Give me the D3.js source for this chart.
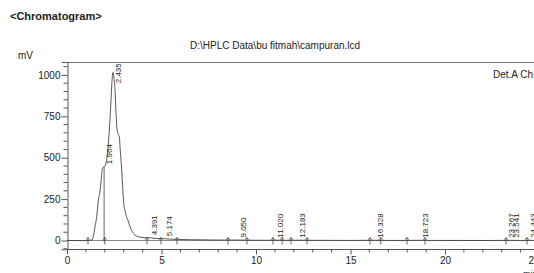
<!DOCTYPE html>
<html><head><meta charset="utf-8">
<script src="https://cdn.jsdelivr.net/npm/d3@7"></script>
<style>html,body{margin:0;padding:0;background:#fff;overflow:hidden}svg{display:block}text{font-family:"Liberation Sans",Arial,sans-serif;fill:#222}</style>
</head><body><svg id="c" width="534" height="273"></svg>
<script>
// ---- data ----
const times = [0,0.5,1.0,1.2,1.31,1.40,1.48,1.57,1.66,1.75,1.82,1.88,1.96,2.03,2.10,2.19,2.26,2.33,2.38,2.43,2.48,2.54,2.59,2.65,2.70,2.77,2.82,2.88,2.94,3.00,3.08,3.16,3.24,3.33,3.45,3.60,3.80,4.02,4.25,4.39,4.55,4.75,4.97,5.17,5.40,5.80,6.5,7.5,8.5,9.05,9.5,10.5,11.02,11.5,12.18,13,14,15,16.33,17,18,18.72,19.5,21,22.5,23.27,23.54,24,24.44,25,26];
const signal = [0,0,0,0.5,3,30,82,143,244,300,380,437,446,455,490,590,700,850,960,1015,985,910,780,670,645,625,540,450,330,230,175,140,118,85,55,33,22,18,16,17,14,13,11,11,9,7,5,3.5,2.5,3,2,1.5,2,1.2,2,1,0.8,0.6,1.5,0.5,0.5,1.5,0.5,0.4,0.3,1.0,1.0,0.3,1.0,0.2,0.2];
const peakTimes = [1.964,2.435,4.391,5.174,9.050,11.020,12.183,16.328,18.723,23.267,23.541,24.443];
const peakHeights = [446,1015,17,11,3,2,2,1.5,1.5,1,1,1];
const peakLabels = ["1.964","2.435","4.391","5.174","9.050","11.020","12.183","16.328","18.723","23.267","23.541","24.443"];
const markerTimes = [1.11,2.0,4.23,4.97,5.82,8.52,9.52,10.9,11.38,11.85,12.7,16.03,16.6,17.99,18.94,23.23,24.34];
const dropLineTimes = [1.964];
const dropLineHeights = [446];
const xTicks = [0,5,10,15,20,25];
const yTicks = [0,250,500,750,1000];

// ---- scales ----
const svg = d3.select("#c");
const x = d3.scaleLinear().domain([0,25]).range([67,539.5]);
const y = d3.scaleLinear().domain([-53,1078]).range([249.3,62]);

// titles
svg.append("text").attr("x",10).attr("y",20).style("font-size","11px").style("font-weight","bold").text("<Chromatogram>");
svg.append("text").attr("x",190).attr("y",49).style("font-size","10px").text("D:\\HPLC Data\\bu fitmah\\campuran.lcd");
svg.append("text").attr("x",18).attr("y",59).style("font-size","10px").text("mV");
svg.append("text").attr("x",493).attr("y",78).style("font-size","10px").text("Det.A Ch1");
svg.append("text").attr("x",523).attr("y",277).style("font-size","9px").text("min");

// frame top
svg.append("line").attr("x1",67).attr("x2",540).attr("y1",62.5).attr("y2",62.5).attr("stroke","#777").attr("stroke-width",1);

// y axis
const yAxis = d3.axisLeft(y).tickValues(yTicks).tickSize(6).tickPadding(1).tickFormat(d3.format("d"));
const gy = svg.append("g").attr("transform","translate(67.5,0)").call(yAxis);
gy.select(".domain").attr("stroke","#555");
gy.selectAll(".tick line").attr("stroke","#555");
gy.selectAll(".tick text").style("font-size","10px").attr("fill","#222");
const yMinor = d3.range(-50,1051,50).filter(v=>v%250!==0);
gy.selectAll(".minor").data(yMinor).enter().append("line").attr("class","minor")
  .attr("x1",-4).attr("x2",0).attr("y1",d=>y(d)).attr("y2",d=>y(d)).attr("stroke","#555");

// x axis
const xAxis = d3.axisBottom(x).tickValues(xTicks).tickSize(5).tickPadding(2).tickFormat(d3.format("d"));
const gx = svg.append("g").attr("transform","translate(0,249.5)").call(xAxis);
gx.select(".domain").attr("stroke","#555").attr("d","M67,0H540");
gx.selectAll(".tick line").attr("stroke","#555");
gx.selectAll(".tick text").style("font-size","10px").attr("fill","#222");
gx.selectAll(".tick text").filter(d=>d===25).attr("dx",-6);
const xMinor = d3.range(1,26,1).filter(v=>v%5!==0);
gx.selectAll(".minor").data(xMinor).enter().append("line").attr("class","minor")
  .attr("x1",d=>x(d)).attr("x2",d=>x(d)).attr("y1",0).attr("y2",3).attr("stroke","#555");

// baseline
svg.append("line").attr("x1",67).attr("x2",540).attr("y1",y(0)).attr("y2",y(0)).attr("stroke","#666").attr("stroke-width",0.8);

// signal curve
const pts = times.map((t,i)=>[t,signal[i]]);
svg.append("path").datum(pts)
  .attr("d",d3.line().x(d=>x(d[0])).y(d=>y(d[1])).curve(d3.curveMonotoneX))
  .attr("fill","none").attr("stroke","#444").attr("stroke-width",0.9);

// drop lines
dropLineTimes.forEach((t,i)=>{
  svg.append("line").attr("x1",x(t)).attr("x2",x(t)).attr("y1",y(dropLineHeights[i])).attr("y2",y(0)+1.5)
    .attr("stroke","#555").attr("stroke-width",0.9);
});

// integration markers
markerTimes.forEach(t=>{
  const cx = x(t), cy = y(0);
  svg.append("path").attr("d",`M${cx},${cy+4}V${cy-3}M${cx-1.8},${cy-0.8}L${cx},${cy-3}L${cx+1.8},${cy-0.8}`)
    .attr("fill","none").attr("stroke","#444").attr("stroke-width",0.8);
});

// peak labels
peakTimes.forEach((t,i)=>{
  const px = x(t) + 7.5;
  const textLen = peakLabels[i].length*4.45 - 2;
  let bottom = y(peakHeights[i]) - 2.5;
  bottom = Math.max(bottom, 63 + textLen);
  svg.append("text").attr("transform",`translate(${px},${bottom}) rotate(-90)`)
    .style("font-size","8px").attr("fill","#333").text(peakLabels[i]);
});
</script></body></html>
